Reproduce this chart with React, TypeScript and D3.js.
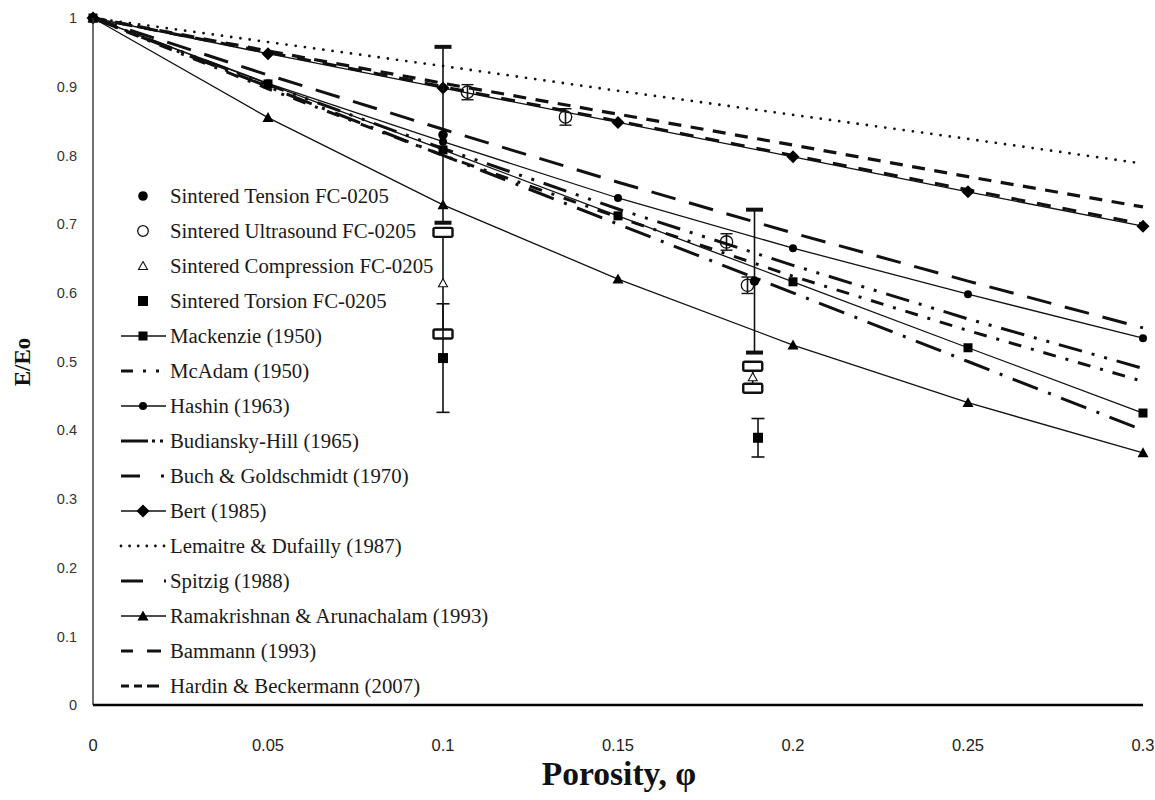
import React from 'react';
import * as d3 from 'd3';

// Porosity grid shared by the model curves
const porosity = [0, 0.05, 0.1, 0.15, 0.2, 0.25, 0.3];

// Model predictions of E/Eo
const mackenzie = [1, 0.904, 0.808, 0.712, 0.616, 0.52, 0.425];
const mcAdam = [1, 0.903, 0.81, 0.722, 0.64, 0.562, 0.49];
const hashin = [1, 0.905, 0.82, 0.738, 0.665, 0.598, 0.534];
const budianskyHill = [1, 0.897, 0.8, 0.71, 0.624, 0.545, 0.471];
const buchGoldschmidt = [1, 0.95, 0.9, 0.85, 0.8, 0.75, 0.7];
const bert = [1, 0.948, 0.898, 0.848, 0.798, 0.747, 0.697];
const lemaitreDufailly = [1, 0.965, 0.93, 0.894, 0.859, 0.824, 0.788];
const spitzig = [1, 0.9, 0.8, 0.7, 0.6, 0.5, 0.4];
const ramakrishnan = [1, 0.855, 0.728, 0.62, 0.524, 0.44, 0.367];
const bammann = [1, 0.917, 0.838, 0.761, 0.687, 0.617, 0.549];
const hardinBeckermann = [1, 0.952, 0.905, 0.86, 0.815, 0.769, 0.725];

// Measured values for sintered FC-0205 (porosity, E/Eo, error half-width)
const tensionPhi = [0.1, 0.189];
const tensionE = [0.83, 0.617];
const tensionErr = [0.128, 0.104];

const ultrasoundPhi = [0.107, 0.135, 0.181, 0.187];
const ultrasoundE = [0.892, 0.856, 0.674, 0.611];
const ultrasoundErr = [0.011, 0.012, 0.012, 0.012];

const compressionPhi = [0.1, 0.1885];
const compressionE = [0.614, 0.477];
const compressionErr = [0.074, 0.016];

const torsionPhi = [0.1, 0.19];
const torsionE = [0.505, 0.389];
const torsionErr = [0.079, 0.028];

// Axis ticks
const xTicks = [0, 0.05, 0.1, 0.15, 0.2, 0.25, 0.3];
const xTickLabels = ['0', '0.05', '0.1', '0.15', '0.2', '0.25', '0.3'];
const yTicks = [0, 0.1, 0.2, 0.3, 0.4, 0.5, 0.6, 0.7, 0.8, 0.9, 1];
const yTickLabels = ['0', '0.1', '0.2', '0.3', '0.4', '0.5', '0.6', '0.7', '0.8', '0.9', '1'];

type Marker = 'square' | 'circle' | 'diamond' | 'triangle' | null;

interface ModelSeries {
  name: string;
  values: number[];
  dash: string | null;
  width: number;
  cap: 'butt' | 'round';
  marker: Marker;
  legendDash: string | null;
}

const models: ModelSeries[] = [
  { name: 'Mackenzie (1950)', values: mackenzie, dash: null, width: 1.3, cap: 'butt', marker: 'square', legendDash: null },
  { name: 'McAdam (1950)', values: mcAdam, dash: '24 10 3 10 3 10', width: 3, cap: 'butt', marker: null, legendDash: '12 10 3 10 3 10' },
  { name: 'Hashin (1963)', values: hashin, dash: null, width: 1.3, cap: 'butt', marker: 'circle', legendDash: null },
  { name: 'Budiansky-Hill (1965)', values: budianskyHill, dash: '13 10 3 10', width: 3, cap: 'butt', marker: null, legendDash: '27 4 3 5 3 20' },
  { name: 'Buch & Goldschmidt (1970)', values: buchGoldschmidt, dash: '14 12', width: 3, cap: 'butt', marker: null, legendDash: '19 21 3 20' },
  { name: 'Bert (1985)', values: bert, dash: null, width: 1.3, cap: 'butt', marker: 'diamond', legendDash: null },
  { name: 'Lemaitre & Dufailly (1987)', values: lemaitreDufailly, dash: '0 9.3', width: 2.8, cap: 'round', marker: null, legendDash: '0 8.6' },
  { name: 'Spitzig (1988)', values: spitzig, dash: '27 11 3 11', width: 3, cap: 'butt', marker: null, legendDash: '22 21 3 20' },
  { name: 'Ramakrishnan & Arunachalam (1993)', values: ramakrishnan, dash: null, width: 1.3, cap: 'butt', marker: 'triangle', legendDash: null },
  { name: 'Bammann (1993)', values: bammann, dash: '25 14', width: 3, cap: 'butt', marker: null, legendDash: '12 14 14 20' },
  { name: 'Hardin & Beckermann (2007)', values: hardinBeckermann, dash: '13 9.5', width: 3.2, cap: 'butt', marker: null, legendDash: '8 5 8 5 12 20' },
];

const experimentLabels = [
  'Sintered Tension FC-0205',
  'Sintered Ultrasound FC-0205',
  'Sintered Compression FC-0205',
  'Sintered Torsion FC-0205',
];

const W = 1155;
const H = 800;
const left = 93;
const right = 1143;
const top = 18;
const bottom = 705;

const x = d3.scaleLinear().domain([0, 0.3]).range([left, right]);
const y = d3.scaleLinear().domain([0, 1]).range([bottom, top]);

function markerShape(kind: Marker, cx: number, cy: number, key: string) {
  if (kind === 'square') {
    return <rect key={key} x={cx - 4.5} y={cy - 4.5} width={9} height={9} fill="#000" />;
  }
  if (kind === 'circle') {
    return <circle key={key} cx={cx} cy={cy} r={4} fill="#000" />;
  }
  if (kind === 'diamond') {
    const s = 6.5;
    return <path key={key} d={`M${cx},${cy - s}L${cx + s},${cy}L${cx},${cy + s}L${cx - s},${cy}Z`} fill="#000" />;
  }
  if (kind === 'triangle') {
    const s = 5.5;
    return <path key={key} d={`M${cx},${cy - s}L${cx + s},${cy + s * 0.8}L${cx - s},${cy + s * 0.8}Z`} fill="#000" />;
  }
  return null;
}

export default function App() {
  const line = d3
    .line<number>()
    .x((_, i) => x(porosity[i]))
    .y((d) => y(d));

  const serif = '"Liberation Serif", "Times New Roman", serif';
  const sans = '"Liberation Sans", Arial, sans-serif';
  const ink = '#111';
  const legendFont = 20.8;

  // Compression bars go first so the other bars pass over their caps
  const compressionBars = compressionPhi.map((p, i) => {
    const cx = x(p);
    const hi = y(compressionE[i] + compressionErr[i]);
    const lo = y(compressionE[i] - compressionErr[i]);
    return (
      <g key={`cb${i}`}>
        <line x1={cx} x2={cx} y1={hi} y2={lo} stroke={ink} strokeWidth={1.6} />
        <rect x={cx - 9.5} y={hi - 4.5} width={19} height={9} rx={1.5} fill="#fff" stroke={ink} strokeWidth={2.4} />
        <rect x={cx - 9.5} y={lo - 4.5} width={19} height={9} rx={1.5} fill="#fff" stroke={ink} strokeWidth={2.4} />
      </g>
    );
  });

  const simpleBars = (
    phi: number[],
    e: number[],
    err: number[],
    capW: number,
    capH: number,
    prefix: string,
  ) =>
    phi.map((p, i) => {
      const cx = x(p);
      const hi = y(e[i] + err[i]);
      const lo = y(e[i] - err[i]);
      return (
        <g key={`${prefix}${i}`}>
          <line x1={cx} x2={cx} y1={hi} y2={lo} stroke={ink} strokeWidth={1.6} />
          <line x1={cx - capW / 2} x2={cx + capW / 2} y1={hi} y2={hi} stroke={ink} strokeWidth={capH} />
          <line x1={cx - capW / 2} x2={cx + capW / 2} y1={lo} y2={lo} stroke={ink} strokeWidth={capH} />
        </g>
      );
    });

  const legendY0 = 196;
  const legendStep = 35;
  const legendMarkX = 143;
  const legendTextX = 170;

  return (
    <svg
      width={W}
      height={H}
      viewBox={`0 0 ${W} ${H}`}
      style={{ position: 'absolute', left: 0, top: 0, background: '#fff' }}
    >
      <rect x={0} y={0} width={W} height={H} fill="#fff" />

      {/* model curves */}
      {models.map((m) => (
        <path
          key={m.name}
          d={line(m.values) || ''}
          fill="none"
          stroke={ink}
          strokeWidth={m.width}
          strokeDasharray={m.dash || undefined}
          strokeLinecap={m.cap}
        />
      ))}
      {models.map((m) =>
        m.marker ? (
          <g key={`mk-${m.name}`}>
            {m.values.map((v, i) => markerShape(m.marker, x(porosity[i]), y(v), `${m.name}-${i}`))}
          </g>
        ) : null,
      )}

      {/* error bars */}
      {compressionBars}
      {simpleBars(tensionPhi, tensionE, tensionErr, 17, 4, 'tb')}
      {simpleBars(torsionPhi, torsionE, torsionErr, 13, 1.6, 'qb')}
      {simpleBars(ultrasoundPhi, ultrasoundE, ultrasoundErr, 12, 1.4, 'ub')}

      {/* measured points */}
      {compressionPhi.map((p, i) => {
        const cx = x(p);
        const cy = y(compressionE[i]);
        return (
          <path
            key={`cp${i}`}
            d={`M${cx},${cy - 4.5}L${cx + 4.5},${cy + 3.5}L${cx - 4.5},${cy + 3.5}Z`}
            fill="#fff"
            stroke={ink}
            strokeWidth={1.1}
          />
        );
      })}
      {torsionPhi.map((p, i) => (
        <rect key={`qp${i}`} x={x(p) - 5} y={y(torsionE[i]) - 5} width={10} height={10} fill="#000" />
      ))}
      {tensionPhi.map((p, i) => (
        <circle key={`tp${i}`} cx={x(p)} cy={y(tensionE[i])} r={4.8} fill="#000" />
      ))}
      {ultrasoundPhi.map((p, i) => (
        <circle key={`up${i}`} cx={x(p)} cy={y(ultrasoundE[i])} r={6.2} fill="none" stroke={ink} strokeWidth={1.3} />
      ))}

      {/* axes */}
      <line x1={left} x2={left} y1={top} y2={bottom} stroke="#333" strokeWidth={1.4} />
      <line x1={left} x2={right} y1={bottom} y2={bottom} stroke="#000" strokeWidth={2.6} />

      {yTicks.map((t, i) => (
        <text
          key={`yt${i}`}
          x={77}
          y={y(t)}
          dy="0.36em"
          textAnchor="end"
          fontFamily={sans}
          fontSize={14.5}
          fill="#333"
        >
          {yTickLabels[i]}
        </text>
      ))}
      {xTicks.map((t, i) => (
        <text
          key={`xt${i}`}
          x={x(t)}
          y={745}
          dy="0.36em"
          textAnchor="middle"
          fontFamily={sans}
          fontSize={16.5}
          fill="#222"
        >
          {xTickLabels[i]}
        </text>
      ))}

      <text
        transform={`translate(30,362) rotate(-90)`}
        textAnchor="middle"
        fontFamily={serif}
        fontWeight="bold"
        fontSize={23}
        fill="#111"
      >
        E/Eo
      </text>
      <text
        x={619}
        y={785}
        textAnchor="middle"
        fontFamily={serif}
        fontWeight="bold"
        fontSize={33.5}
        fill="#111"
      >
        Porosity, φ
      </text>

      {/* legend */}
      <g>
        {experimentLabels.map((label, i) => {
          const cy = legendY0 + legendStep * i;
          let mark: React.ReactNode = null;
          if (i === 0) mark = <circle cx={legendMarkX} cy={cy} r={4.8} fill="#000" />;
          if (i === 1) mark = <circle cx={legendMarkX} cy={cy} r={5.3} fill="none" stroke={ink} strokeWidth={1.3} />;
          if (i === 2)
            mark = (
              <path
                d={`M${legendMarkX},${cy - 4.5}L${legendMarkX + 4.5},${cy + 3.5}L${legendMarkX - 4.5},${cy + 3.5}Z`}
                fill="#fff"
                stroke={ink}
                strokeWidth={1.1}
              />
            );
          if (i === 3) mark = <rect x={legendMarkX - 5} y={cy - 5} width={10} height={10} fill="#000" />;
          return (
            <g key={label}>
              {mark}
              <text x={legendTextX} y={cy} dy="0.33em" fontFamily={serif} fontSize={legendFont} fill="#1a1a1a">
                {label}
              </text>
            </g>
          );
        })}
        {models.map((m, j) => {
          const cy = legendY0 + legendStep * (j + 4);
          return (
            <g key={`lg-${m.name}`}>
              <line
                x1={121}
                x2={166}
                y1={cy}
                y2={cy}
                stroke={ink}
                strokeWidth={m.marker ? 1.3 : m.width}
                strokeDasharray={m.legendDash || undefined}
                strokeLinecap={m.cap}
              />
              {m.marker ? markerShape(m.marker, legendMarkX, cy, `lm-${m.name}`) : null}
              <text x={legendTextX} y={cy} dy="0.33em" fontFamily={serif} fontSize={legendFont} fill="#1a1a1a">
                {m.name}
              </text>
            </g>
          );
        })}
      </g>
    </svg>
  );
}
